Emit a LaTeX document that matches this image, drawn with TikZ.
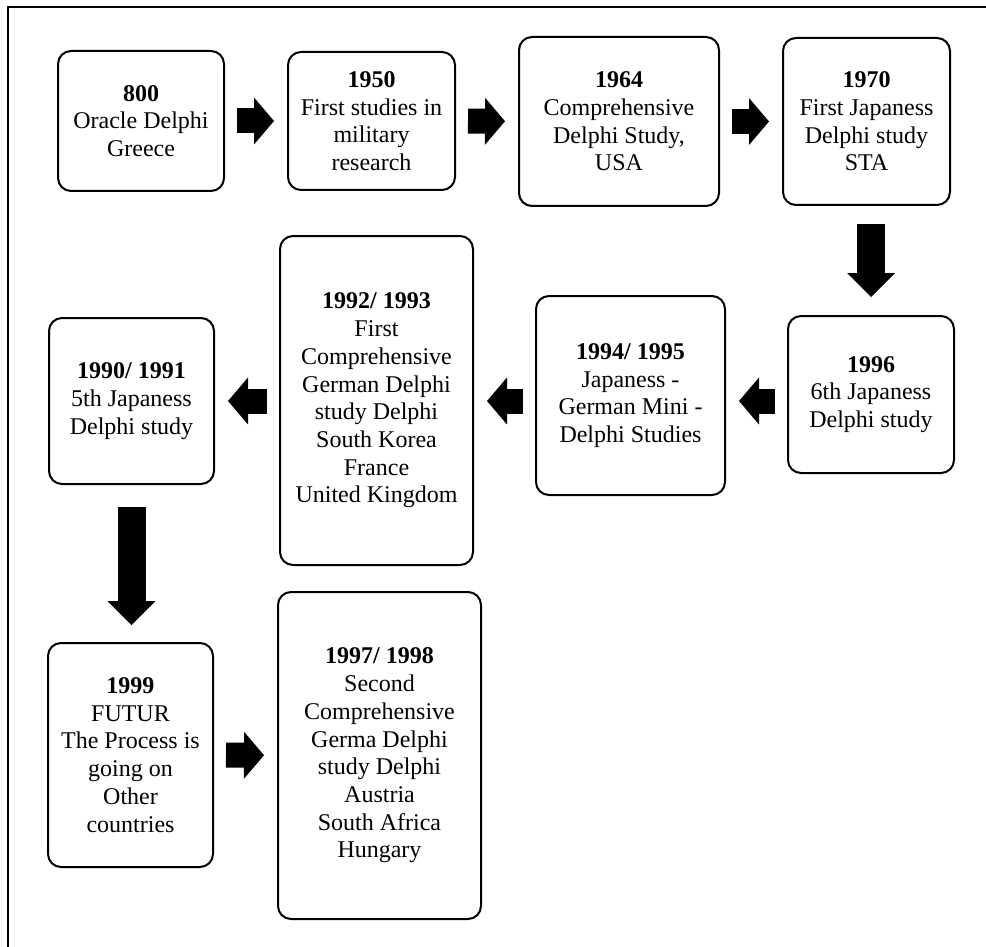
\documentclass[tikz,border=0pt]{standalone}
\usepackage{fontspec}
\setmainfont{Liberation Serif}
\usetikzlibrary{arrows.meta}
\begin{document}
\begin{tikzpicture}[x=0.5pt, y=-0.5pt, font=\fontsize{12}{13.85}\selectfont,
        box/.style={draw, line width=1pt, rounded corners=6.5pt, align=center, inner sep=2pt, fill=white},
        blockarrow/.style={line width=12.5pt, -{Triangle[width=23.5pt, length=10pt, line width=0pt]}, shorten <=6pt, shorten >=6.5pt},
        downarrow/.style={line width=14pt, -{Triangle[width=24pt, length=12pt, line width=0pt]}}]
    \useasboundingbox (0,0) rectangle (986,947);
    % frame (cut off at right and bottom)
    \draw[line width=1pt] (8,947) -- (8,7) -- (986,7);

    % first row
    \node[box, minimum width=83pt, minimum height=70pt] (b800) at (141,121) {\textbf{800}\\Oracle Delphi\\Greece};
    \node[box, minimum width=83.5pt, minimum height=69pt] (b1950) at (371.5,121) {\textbf{1950}\\First studies in\\military\\research};
    \node[box, minimum width=100pt, minimum height=84.5pt] (b1964) at (619,121.5) {\textbf{1964}\\Comprehensive\\Delphi Study,\\USA};
    \node[box, minimum width=83.5pt, minimum height=83.5pt] (b1970) at (866.5,121.5) {\textbf{1970}\\First Japaness\\Delphi study\\STA};

    % second row
    \coordinate (r2) at (0,401);
    \node[box, minimum width=83pt, minimum height=78.5pt] (b1996) at (871,394.5) {\textbf{1996}\\6th Japaness\\Delphi study};
    \node[box, minimum width=94.5pt, minimum height=99.5pt] (b1994) at (630.5,395.5) {\textbf{1994/ 1995}\\Japaness -\\German Mini -\\Delphi Studies};
    \node[box, minimum width=96.5pt, minimum height=164.5pt] (b1992) at (376.5,400.5) {\textbf{1992/ 1993}\\First\\Comprehensive\\German Delphi\\study Delphi\\South Korea\\France\\United Kingdom};
    \node[box, minimum width=82.5pt, minimum height=83pt] (b1990) at (131.5,401) {\textbf{1990/ 1991}\\5th Japaness\\Delphi study};

    % third row
    \node[box, minimum width=82.5pt, minimum height=112pt] (b1999) at (130.5,755) {\textbf{1999}\\FUTUR\\The Process is\\going on\\Other\\countries};
    \node[box, minimum width=101.5pt, minimum height=163.5pt] (b1997) at (379.5,755.5) {\textbf{1997/ 1998}\\Second\\Comprehensive\\Germa Delphi\\study Delphi\\Austria\\South Africa\\Hungary};

    % arrows
    \draw[blockarrow] (b800) -- (b1950);
    \draw[blockarrow] (b1950) -- (b1964);
    \draw[blockarrow] (b1964) -- (b1970);
    \draw[downarrow, shorten <=9pt, shorten >=9pt] (b1996.north |- b1970.south) -- (b1996.north);
    \draw[blockarrow] (b1996.west |- r2) -- (b1994.east |- r2);
    \draw[blockarrow] (b1994.west |- r2) -- (b1992.east |- r2);
    \draw[blockarrow] (b1992.west |- r2) -- (b1990.east |- r2);
    \draw[downarrow, shorten <=11pt, shorten >=8.5pt] (b1990.south) -- (b1990.south |- b1999.north);
    \draw[blockarrow] (b1999) -- (b1997);
\end{tikzpicture}
\end{document}
